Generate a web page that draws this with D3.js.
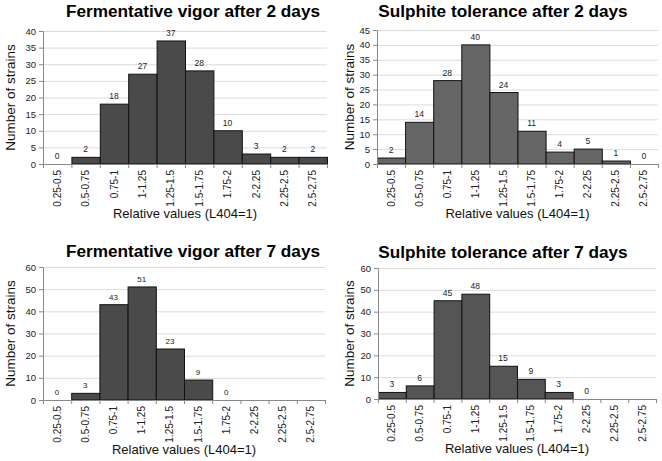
<!DOCTYPE html>
<html><head><meta charset="utf-8">
<script src="https://cdn.jsdelivr.net/npm/d3@7"></script>
<style>body{margin:0;background:#fff}svg{display:block;font-family:"Liberation Sans",Arial,sans-serif}</style>
</head><body><svg id="c" width="662" height="461"></svg>
<script>
const categories = ["0.25-0.5","0.5-0.75","0.75-1","1-1.25","1.25-1.5","1.5-1.75","1.75-2","2-2.25","2.25-2.5","2.5-2.75"];
const vigor2 = [0,2,18,27,37,28,10,3,2,2];
const sulphite2 = [2,14,28,40,24,11,4,5,1,0];
const vigor7 = [0,3,43,51,23,9,0,null,null,null];
const sulphite7 = [3,6,45,48,15,9,3,0,null,null];
const titles = ["Fermentative vigor after 2 days","Sulphite tolerance after 2 days","Fermentative vigor after 7 days","Sulphite tolerance after 7 days"];
const yMaxes = [40,45,60,60];
const ySteps = [5,5,10,10];
const xTitle = "Relative values (L404=1)";
const yTitle = "Number of strains";

const panels = [
  {data:vigor2, l:43, r:327, t:31, b:164, tx:193, ty:17, fill:"#4a4a4a", yl:10, vf:8.5},
  {data:sulphite2, l:377, r:658, t:30, b:164, tx:503, ty:17, fill:"#666666", yl:349, vf:8.5},
  {data:vigor7, l:43, r:325, t:267, b:400, tx:193, ty:257, fill:"#4a4a4a", yl:10, vf:8},
  {data:sulphite7, l:378, r:656, t:268, b:399, tx:503, ty:258, fill:"#555555", yl:349, vf:8.5}
];
const svg = d3.select("#c");
panels.forEach((p,i)=>{
  const g = svg.append("g");
  const x = d3.scaleBand().domain(categories).range([p.l,p.r]).padding(0);
  const y = d3.scaleLinear().domain([0,yMaxes[i]]).range([p.b,p.t]);
  const ticks = d3.range(0,yMaxes[i]+0.001,ySteps[i]);
  g.selectAll(".grid").data(ticks.slice(1)).join("line")
    .attr("x1",p.l).attr("x2",p.r).attr("y1",d=>y(d)+0.5).attr("y2",d=>y(d)+0.5)
    .attr("stroke","#dcdcdc").attr("stroke-width",1);
  const bd = categories.map((c,k)=>({c,v:p.data[k]})).filter(d=>d.v!==null);
  g.selectAll(".bar").data(bd).join("rect")
    .attr("x",d=>x(d.c)+0.5).attr("width",x.bandwidth())
    .attr("y",d=>y(d.v)).attr("height",d=>y(0)-y(d.v))
    .attr("fill",p.fill).attr("stroke","#111").attr("stroke-width",1);
  g.selectAll(".vl").data(bd).join("text")
    .attr("x",d=>x(d.c)+x.bandwidth()/2).attr("y",d=>y(d.v)-5)
    .attr("text-anchor","middle").attr("font-size",p.vf).attr("fill","#222").text(d=>d.v);
  const ya = g.append("g").attr("transform",`translate(${p.l},0)`)
    .call(d3.axisLeft(y).tickValues(ticks).tickSize(4).tickSizeOuter(0));
  ya.select(".domain").attr("stroke","#888");
  ya.selectAll("line").attr("stroke","#888");
  ya.selectAll("text").attr("font-size",9.5).attr("fill","#222").attr("font-family","Liberation Sans, Arial, sans-serif");
  const xa = g.append("g").attr("transform",`translate(0,${p.b})`)
    .call(d3.axisBottom(x).tickSize(0).tickSizeOuter(0));
  xa.select(".domain").attr("stroke","#888");
  xa.selectAll("text").attr("font-size",10).attr("fill","#222").attr("font-family","Liberation Sans, Arial, sans-serif")
    .attr("transform","rotate(-90)").attr("text-anchor","end").attr("x",-6).attr("y",0).attr("dy","0.35em");
  g.selectAll(".bt").data(categories.concat(["end"])).join("line")
    .attr("x1",(d,k)=>p.l+k*x.bandwidth()+0.5).attr("x2",(d,k)=>p.l+k*x.bandwidth()+0.5)
    .attr("y1",p.b).attr("y2",p.b+4).attr("stroke","#888");
  g.append("text").attr("x",p.tx).attr("y",p.ty).attr("text-anchor","middle")
    .attr("font-size",17.2).attr("font-weight","bold").attr("fill","#000").text(titles[i]);
  g.append("text").attr("x",(p.l+p.r)/2).attr("y",p.b+54).attr("text-anchor","middle")
    .attr("font-size",13).attr("fill","#111").text(xTitle);
  g.append("text").attr("transform",`translate(${p.yl},${(p.t+p.b)/2}) rotate(-90)`)
    .attr("text-anchor","middle").attr("dy","0.35em").attr("font-size",13.5).attr("fill","#111").text(yTitle);
});
</script></body></html>
